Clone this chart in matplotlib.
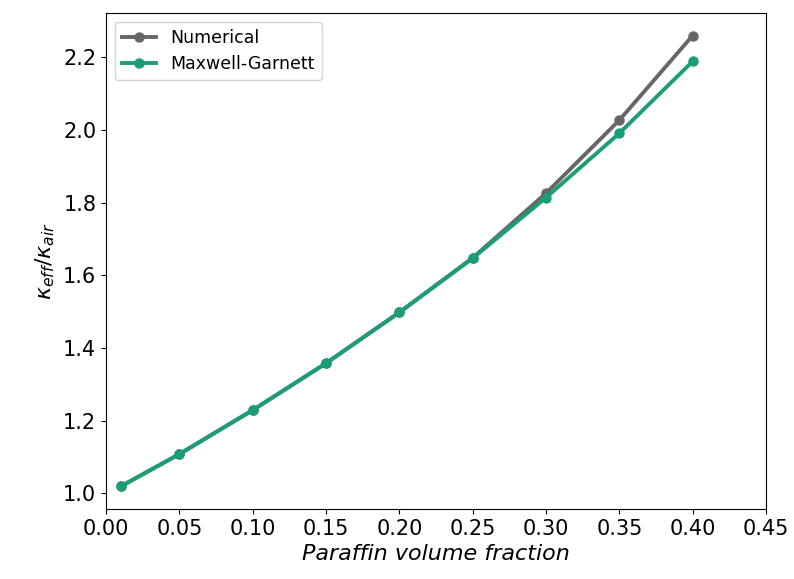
import matplotlib
matplotlib.use("Agg")
import matplotlib.pyplot as plt

fraction = [0.01, 0.05, 0.10, 0.15, 0.20, 0.25, 0.30, 0.35, 0.40]
numerical = [1.019, 1.108, 1.229, 1.358, 1.498, 1.648, 1.826, 2.027, 2.260]
maxwell_garnett = [1.019, 1.108, 1.229, 1.358, 1.498, 1.647, 1.814, 1.991, 2.189]
x_ticks = [0.00, 0.05, 0.10, 0.15, 0.20, 0.25, 0.30, 0.35, 0.40, 0.45]

fig = plt.figure(figsize=(7.94, 5.79), dpi=100)
ax = fig.add_axes([106/794, 70/579, 660/794, 496/579])

ax.plot(fraction, numerical, '-o', color='#666666', lw=2.8, ms=6.5, label='Numerical')
ax.plot(fraction, maxwell_garnett, '-o', color='#1b9e77', lw=2.8, ms=6.5, label='Maxwell-Garnett')

ax.set_xlim(0, 0.45)
ax.set_xticks(x_ticks)
ax.set_xticklabels([f"{t:.2f}" for t in x_ticks])
ax.tick_params(labelsize=15)
ax.set_xlabel('Paraffin volume fraction', fontsize=16, style='italic')
ax.set_ylabel(r'$\kappa_{eff}/\kappa_{air}$', fontsize=16)
ax.legend(loc='upper left', fontsize=12.5)

fig.savefig('out.png', dpi=100)
